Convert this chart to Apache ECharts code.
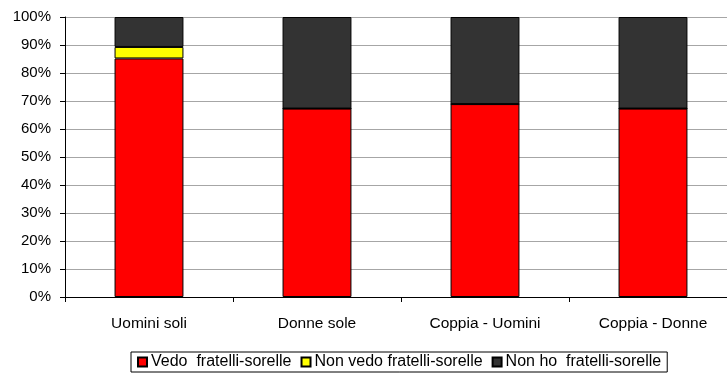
<!DOCTYPE html>
<html>
<head>
<meta charset="utf-8">
<script src="https://cdn.jsdelivr.net/npm/echarts@6/dist/echarts.min.js"></script>
<style>
  html, body { margin: 0; padding: 0; background: #fff; overflow: hidden; }
  #main { width: 737px; height: 377px; }
</style>
</head>
<body>
<div id="main"></div>
<script>
const categories = ['Uomini soli', 'Donne sole', 'Coppia - Uomini', 'Coppia - Donne'];
const vedo = [85.2, 67.3, 68.9, 67.3];
const nonVedo = [4.1, 0, 0, 0];
const nonHo = [10.7, 32.7, 31.1, 32.7];
const yTicks = [0, 10, 20, 30, 40, 50, 60, 70, 80, 90, 100];

const font = 'Liberation Sans, Arial, sans-serif';
const chart = echarts.init(document.getElementById('main'), null, { renderer: 'canvas' });

function barSeries(name, data, color) {
  return {
    name: name,
    type: 'bar',
    stack: 'tot',
    barWidth: '41%',
    data: data,
    itemStyle: { color: color, borderColor: '#000', borderWidth: 1 },
    emphasis: { disabled: true }
  };
}

chart.setOption({
  animation: false,
  textStyle: { fontFamily: font },
  grid: { left: 65, right: 0, top: 17, height: 280, containLabel: false },
  legend: {
    top: 352,
    left: 131,
    icon: 'rect',
    itemWidth: 9,
    itemHeight: 9,
    itemGap: 9,
    padding: [2, 6, 2, 6],
    borderColor: '#000',
    borderWidth: 1,
    textStyle: { fontSize: 16, color: '#000', fontFamily: font, padding: [0, 0, 0, -1] },
    data: ['Vedo  fratelli-sorelle', 'Non vedo fratelli-sorelle', 'Non ho  fratelli-sorelle']
  },
  xAxis: {
    type: 'category',
    data: categories,
    axisLine: { lineStyle: { color: '#000', width: 1 } },
    axisTick: { show: true, length: 5, alignWithLabel: false, lineStyle: { color: '#000' } },
    axisLabel: { fontSize: 15.5, color: '#000', margin: 19, fontFamily: font }
  },
  yAxis: {
    type: 'value',
    min: 0,
    max: 100,
    interval: 10,
    axisLine: { show: true, lineStyle: { color: '#000', width: 1 } },
    axisTick: { show: true, length: 5, lineStyle: { color: '#000' } },
    axisLabel: {
      fontSize: 15, color: '#000', margin: 14, fontFamily: font,
      formatter: v => (yTicks.indexOf(v) >= 0 ? v + '%' : '')
    },
    splitLine: { show: true, lineStyle: { color: '#a6a6a6', width: 1 } }
  },
  series: [
    barSeries('Vedo  fratelli-sorelle', vedo, '#ff0000'),
    barSeries('Non vedo fratelli-sorelle', nonVedo, '#ffff00'),
    barSeries('Non ho  fratelli-sorelle', nonHo, '#333333')
  ]
});
</script>
</body>
</html>
